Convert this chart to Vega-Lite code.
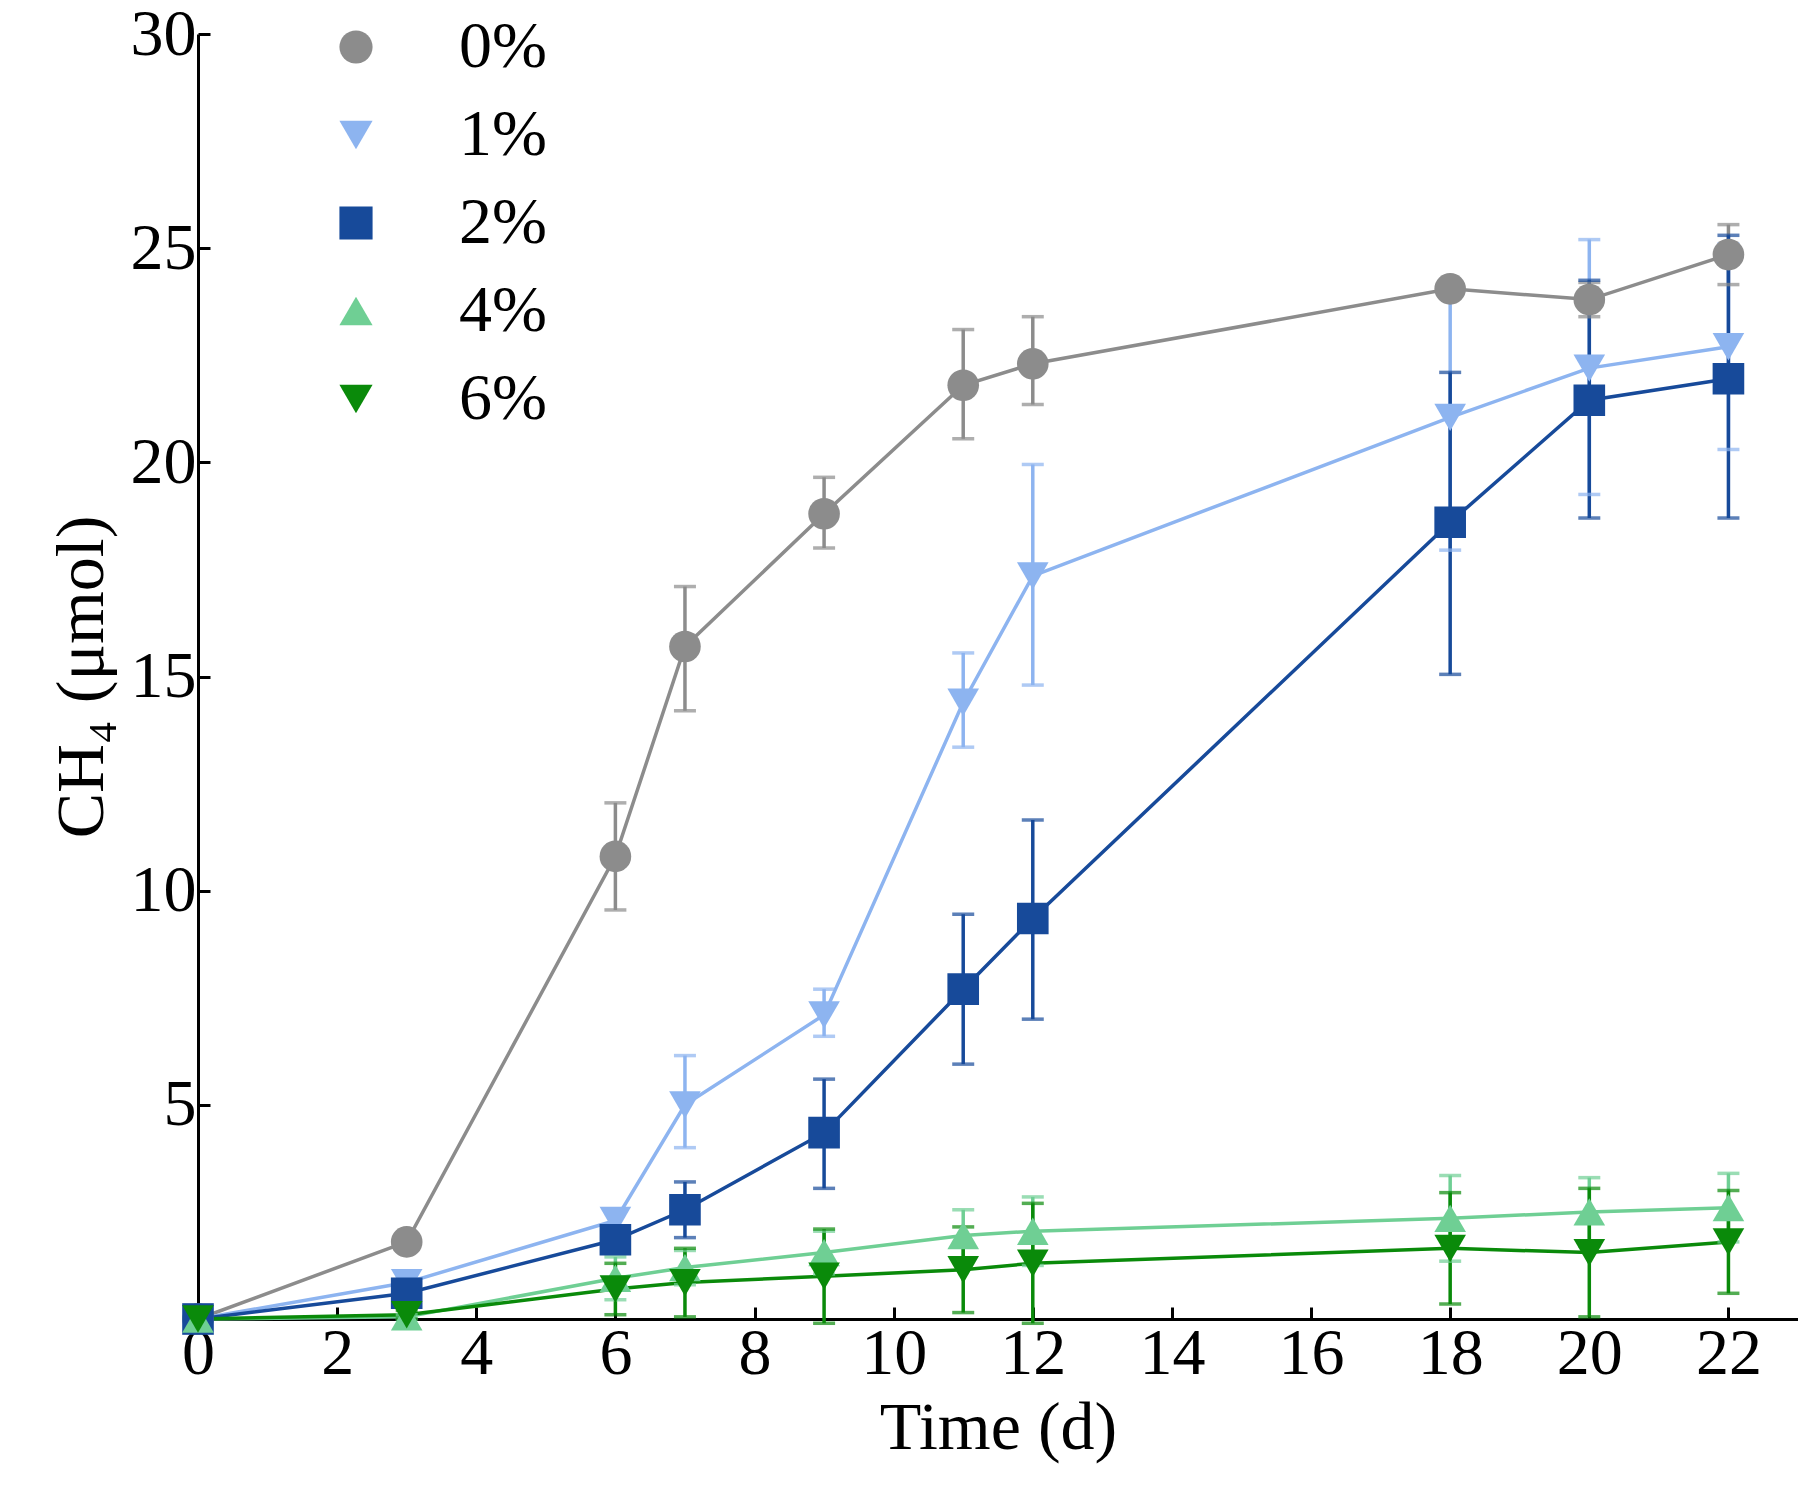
{
"$schema":"https://vega.github.io/schema/vega-lite/v6.json",
"width":1600,"height":1285,"autosize":{"type":"none"},
"padding":{"left":198,"top":34,"right":0,"bottom":189},
"background":"white",
"config":{"view":{"stroke":null},"font":"Liberation Serif"},
"data":{"values":[
{"g":"0%","x":0,"y":0,"lo":0,"hi":0},
{"g":"0%","x":3,"y":1.8,"lo":1.6,"hi":2.0},
{"g":"0%","x":6,"y":10.8,"lo":9.55,"hi":12.05},
{"g":"0%","x":7,"y":15.7,"lo":14.2,"hi":17.1},
{"g":"0%","x":9,"y":18.8,"lo":18.0,"hi":19.65},
{"g":"0%","x":11,"y":21.8,"lo":20.55,"hi":23.1},
{"g":"0%","x":12,"y":22.3,"lo":21.35,"hi":23.4},
{"g":"0%","x":18,"y":24.05,"lo":23.95,"hi":24.15},
{"g":"0%","x":20,"y":23.8,"lo":23.4,"hi":24.2},
{"g":"0%","x":22,"y":24.85,"lo":24.15,"hi":25.55},
{"g":"1%","x":0,"y":0,"lo":0,"hi":0},
{"g":"1%","x":3,"y":0.85,"lo":0.7,"hi":1.0},
{"g":"1%","x":6,"y":2.3,"lo":2.1,"hi":2.5},
{"g":"1%","x":7,"y":5.0,"lo":4.0,"hi":6.15},
{"g":"1%","x":9,"y":7.1,"lo":6.6,"hi":7.7},
{"g":"1%","x":11,"y":14.4,"lo":13.35,"hi":15.55},
{"g":"1%","x":12,"y":17.35,"lo":14.8,"hi":19.95},
{"g":"1%","x":18,"y":21.05,"lo":17.95,"hi":24.2},
{"g":"1%","x":20,"y":22.2,"lo":19.25,"hi":25.2},
{"g":"1%","x":22,"y":22.7,"lo":20.3,"hi":25.1},
{"g":"2%","x":0,"y":0,"lo":0,"hi":0},
{"g":"2%","x":3,"y":0.6,"lo":0.45,"hi":0.75},
{"g":"2%","x":6,"y":1.85,"lo":1.6,"hi":2.1},
{"g":"2%","x":7,"y":2.55,"lo":1.9,"hi":3.2},
{"g":"2%","x":9,"y":4.35,"lo":3.05,"hi":5.6},
{"g":"2%","x":11,"y":7.7,"lo":5.95,"hi":9.45},
{"g":"2%","x":12,"y":9.35,"lo":7.0,"hi":11.65},
{"g":"2%","x":18,"y":18.6,"lo":15.05,"hi":22.1},
{"g":"2%","x":20,"y":21.45,"lo":18.7,"hi":24.25},
{"g":"2%","x":22,"y":21.95,"lo":18.7,"hi":25.3},
{"g":"4%","x":0,"y":0,"lo":0,"hi":0},
{"g":"4%","x":3,"y":0.05,"lo":0,"hi":0.1},
{"g":"4%","x":6,"y":0.95,"lo":0.45,"hi":1.45},
{"g":"4%","x":7,"y":1.2,"lo":0.8,"hi":1.6},
{"g":"4%","x":9,"y":1.55,"lo":1.05,"hi":2.05},
{"g":"4%","x":11,"y":1.95,"lo":1.35,"hi":2.55},
{"g":"4%","x":12,"y":2.05,"lo":1.25,"hi":2.85},
{"g":"4%","x":18,"y":2.35,"lo":1.35,"hi":3.35},
{"g":"4%","x":20,"y":2.5,"lo":1.7,"hi":3.3},
{"g":"4%","x":22,"y":2.6,"lo":1.8,"hi":3.4},
{"g":"6%","x":0,"y":0,"lo":0,"hi":0},
{"g":"6%","x":3,"y":0.1,"lo":0,"hi":0.2},
{"g":"6%","x":6,"y":0.7,"lo":0.1,"hi":1.3},
{"g":"6%","x":7,"y":0.85,"lo":0.05,"hi":1.65},
{"g":"6%","x":9,"y":1.0,"lo":-0.1,"hi":2.1},
{"g":"6%","x":11,"y":1.15,"lo":0.15,"hi":2.15},
{"g":"6%","x":12,"y":1.3,"lo":-0.1,"hi":2.7},
{"g":"6%","x":18,"y":1.65,"lo":0.35,"hi":2.95},
{"g":"6%","x":20,"y":1.55,"lo":0.05,"hi":3.05},
{"g":"6%","x":22,"y":1.8,"lo":0.6,"hi":3.0}
]},
"encoding":{
"x":{"field":"x","type":"quantitative","scale":{"domain":[0,23],"nice":false},
 "axis":{"title":"Time (d)","values":[0,2,4,6,8,10,12,14,16,18,20,22],"grid":false,"domainColor":"black","domainWidth":3,"tickColor":"black","tickWidth":3,"tickSize":-12,"labelFontSize":66,"labelColor":"black","titleFontSize":68,"titleFontWeight":"normal","titleColor":"black","labelPadding":14,"titlePadding":8,"labelFlush":false}},
"y":{"field":"y","type":"quantitative","scale":{"domain":[0,30],"nice":false},
 "axis":{"title":"CH₄ (μmol)","values":[0,5,10,15,20,25,30],"labelExpr":"datum.value==0?'':datum.label","grid":false,"domainColor":"black","domainWidth":3,"tickColor":"black","tickWidth":3,"tickSize":-12,"labelFontSize":66,"labelColor":"black","titleFontSize":68,"titleFontWeight":"normal","titleColor":"black","labelPadding":14,"titlePadding":14}},
"color":{"field":"g","type":"nominal","scale":{"domain":["0%","1%","2%","4%","6%"],"range":["#8c8c8c","#8db4f0","#174a9a","#6fcf94","#0a8a0a"]},
 "legend":{"title":null,"orient":"none","legendX":65,"legendY":-20,"labelFontSize":66,"labelColor":"black","symbolSize":1100,"symbolStrokeWidth":0,"symbolOpacity":1,"rowPadding":22,"labelOffset":70,"symbolOffset":60}}
},
"layer":[
{"mark":{"type":"line","strokeWidth":3.5,"clip":false}},
{"mark":{"type":"rule","strokeWidth":3.5},"encoding":{"y":{"field":"lo","type":"quantitative"},"y2":{"field":"hi"}}},
{"mark":{"type":"tick","thickness":3.5,"size":22,"orient":"horizontal"},"encoding":{"y":{"field":"lo","type":"quantitative"}}},
{"mark":{"type":"tick","thickness":3.5,"size":22,"orient":"horizontal"},"encoding":{"y":{"field":"hi","type":"quantitative"}}},
{"mark":{"type":"point","filled":true,"opacity":1,"size":1000,"clip":false},
 "encoding":{"shape":{"field":"g","type":"nominal","scale":{"domain":["0%","1%","2%","4%","6%"],"range":["circle","triangle-down","square","triangle-up","triangle-down"]},
  "legend":{"title":null,"orient":"none","legendX":65,"legendY":-20,"labelFontSize":66,"labelColor":"black","symbolSize":1100,"symbolStrokeWidth":0,"symbolOpacity":1,"rowPadding":22,"labelOffset":70,"symbolOffset":60}}}}
]
}
